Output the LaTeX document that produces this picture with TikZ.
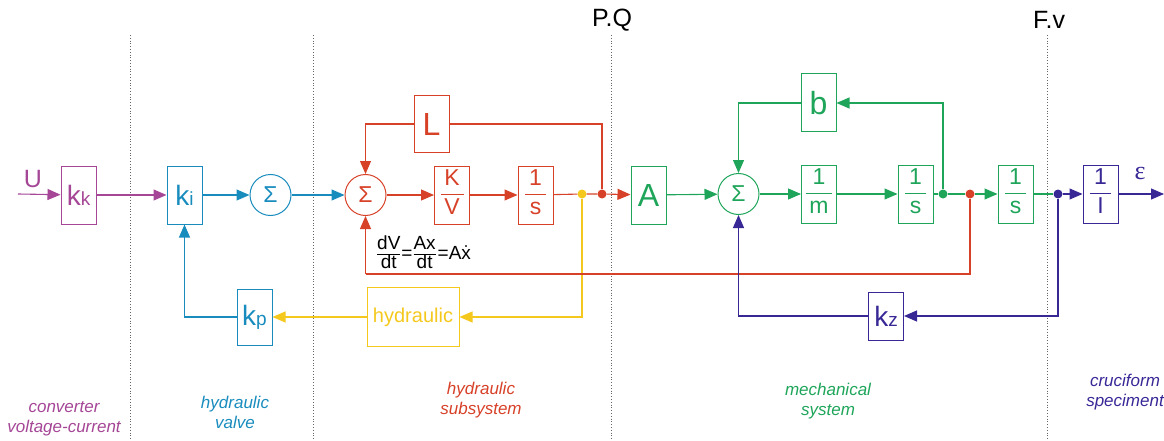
\documentclass[tikz,border=0pt]{standalone}
\usepackage{amsmath}
\usepackage{fontspec}
\setmainfont{Liberation Sans}
\newfontfamily\serifgr{Liberation Serif}
\usepackage{xcolor}
\usetikzlibrary{arrows.meta,positioning,calc}

\definecolor{magc}{RGB}{165,70,150}
\definecolor{cyac}{RGB}{25,140,190}
\definecolor{redc}{RGB}{215,65,40}
\definecolor{yelc}{RGB}{245,200,30}
\definecolor{grnc}{RGB}{30,165,90}
\definecolor{bluc}{RGB}{55,40,150}

\newcommand{\gk}[1]{{\fontsize{28}{28}\selectfont k}{\fontsize{19}{19}\selectfont #1}}
\newcommand{\bfr}[2]{{\setlength{\arrayrulewidth}{1.2pt}\begin{tabular}{@{\,}c@{\,}}#1\\[2pt]\hline\rule{0pt}{19pt}#2\end{tabular}}}
\newcommand{\tfr}[2]{{\setlength{\arrayrulewidth}{0.8pt}\begin{tabular}{@{}c@{}}#1\\[-1pt]\hline\rule{0pt}{14pt}#2\end{tabular}}}

\begin{document}
\begin{tikzpicture}[x=1pt, y=-1pt,
  blk/.style={draw, rectangle, minimum width=35pt, minimum height=58pt, inner sep=0pt, line width=1pt, font=\fontsize{32}{32}\selectfont},
  fblk/.style={blk, font=\fontsize{23}{23}\selectfont},
  sumnode/.style={draw, circle, minimum size=41pt, inner sep=0pt, line width=1pt, font=\fontsize{23}{23}\selectfont},
  jdot/.style={circle, fill, inner sep=0pt, minimum size=9pt},
  sig/.style={line width=1.1pt, -{Triangle[length=13pt,width=11pt]}},
  wire/.style={line width=1.1pt},
  sep/.style={gray!80!black, dotted, line width=0.8pt},
  lbl/.style={font=\fontsize{17}{20}\selectfont\itshape, align=center}
]
\useasboundingbox (0,0) rectangle (1164,441);

% section borders
\draw[sep] (130,35) -- (130,441);
\draw[sep] (313,35) -- (313,441);
\draw[sep] (611,35) -- (611,441);
\draw[sep] (1047,35) -- (1047,441);
\node[font=\fontsize{25}{25}\selectfont] (pq) at (612,20) {P.Q};
\node[font=\fontsize{25}{25}\selectfont] (fv) at (1049,20) {F.v};

% converter
\node[blk, magc] (kk) at (78.5,195) {\gk{k}};
\coordinate (uin) at (18,194);
\node[magc, font=\fontsize{25}{25}\selectfont] (u) at (33,179) {U};
\draw[sig, magc] (uin) -- (kk);

% valve
\node[blk, cyac] (ki) at (184.5,195) {\gk{i}};
\node[sumnode, cyac] (sum1) at (270.5,195) {Σ};
\node[blk, cyac, minimum height=56pt] (kp) at (254.5,317) {\gk{p}};
\draw[sig, magc] (kk) -- (ki);
\draw[sig, cyac] (ki) -- (sum1);
\draw[sig, cyac] (kp.west) -| (ki.south);

% hydraulic subsystem
\node[sumnode, redc] (sum2) at (365.5,195) {Σ};
\node[blk, redc, minimum height=57pt] (L) at (431.5,124) {L};
\node[fblk, redc] (kv) at (452,195) {\bfr{K}{V}};
\node[fblk, redc] (s1) at (535.5,195) {\bfr{1}{s}};
\node[jdot, yelc] (ydot) at (582,194) {};
\node[jdot, redc] (rdot1) at (602,194) {};
\node[blk, yelc, minimum width=92pt, minimum height=59pt, font=\fontsize{20}{20}\selectfont] (hyd) at (413,317) {hydraulic};
\node[font=\fontsize{19}{19}\selectfont, anchor=west, inner sep=0pt] (dv) at (377,255)
  {\tfr{dV}{dt}\kern1pt=\kern1pt\tfr{Ax}{dt}\kern2pt=A\.{x}};
\draw[sig, cyac] (sum1) -- (sum2);
\draw[sig, redc] (sum2) -- (kv);
\draw[sig, redc] (kv) -- (s1);
\draw[wire, redc] (s1) -- (ydot) -- (rdot1);
\draw[wire, redc] (rdot1) |- (L.east);
\draw[sig, redc] (L.west) -| (sum2.north);
\draw[sig, yelc] (ydot) |- (hyd.east);
\draw[sig, yelc] (hyd.west) -- (kp.east);

% mechanical system
\node[blk, grnc] (A) at (648.5,195) {A};
\node[sumnode, grnc] (sum3) at (738.5,194) {Σ};
\node[blk, grnc] (b) at (818.5,103) {b};
\node[fblk, grnc] (m) at (819,194) {\bfr{1}{m}};
\node[fblk, grnc] (s2) at (915.5,194) {\bfr{1}{s}};
\node[jdot, grnc] (gdot) at (943,194) {};
\node[jdot, redc] (rdot2) at (970,194) {};
\node[fblk, grnc] (s3) at (1015.5,194) {\bfr{1}{s}};
\node[blk, bluc, minimum height=48pt] (kz) at (886,316) {\gk{z}};
\coordinate (fb) at (365.5,274);
\draw[sig, redc] (rdot1) -- (A);
\draw[sig, grnc] (A) -- (sum3);
\draw[sig, grnc] (sum3) -- (m);
\draw[sig, grnc] (m) -- (s2);
\draw[wire, grnc] (s2) -- (gdot) -- (rdot2);
\draw[sig, grnc] (rdot2) -- (s3);
\draw[sig, grnc] (gdot) |- (b.east);
\draw[sig, grnc] (b.west) -| (sum3.north);
\draw[wire, redc] (rdot2) |- (fb);
\draw[sig, redc] (fb) -- (sum2.south);

% cruciform speciment
\node[jdot, bluc] (bdot) at (1058,194) {};
\node[fblk, bluc] (il) at (1100.5,194) {\bfr{1}{I}};
\coordinate (out) at (1164,194);
\node[bluc, font=\fontsize{26}{26}\selectfont\serifgr] (eps) at (1140,174) {ε};
\draw[wire, grnc] (s3) -- (bdot);
\draw[sig, bluc] (bdot) -- (il);
\draw[sig, bluc] (il) -- (out);
\draw[sig, bluc] (bdot) |- (kz.east);
\draw[sig, bluc] (kz.west) -| (sum3.south);

% section names
\node[lbl, magc] (t1) at (64,419) {converter\\voltage-current};
\node[lbl, cyac] (t2) at (235,412) {hydraulic\\valve};
\node[lbl, redc] (t3) at (481,400) {hydraulic\\subsystem};
\node[lbl, grnc] (t4) at (828,401) {mechanical\\system};
\node[lbl, bluc] (t5) at (1125,392) {cruciform\\speciment};
\end{tikzpicture}
\end{document}
